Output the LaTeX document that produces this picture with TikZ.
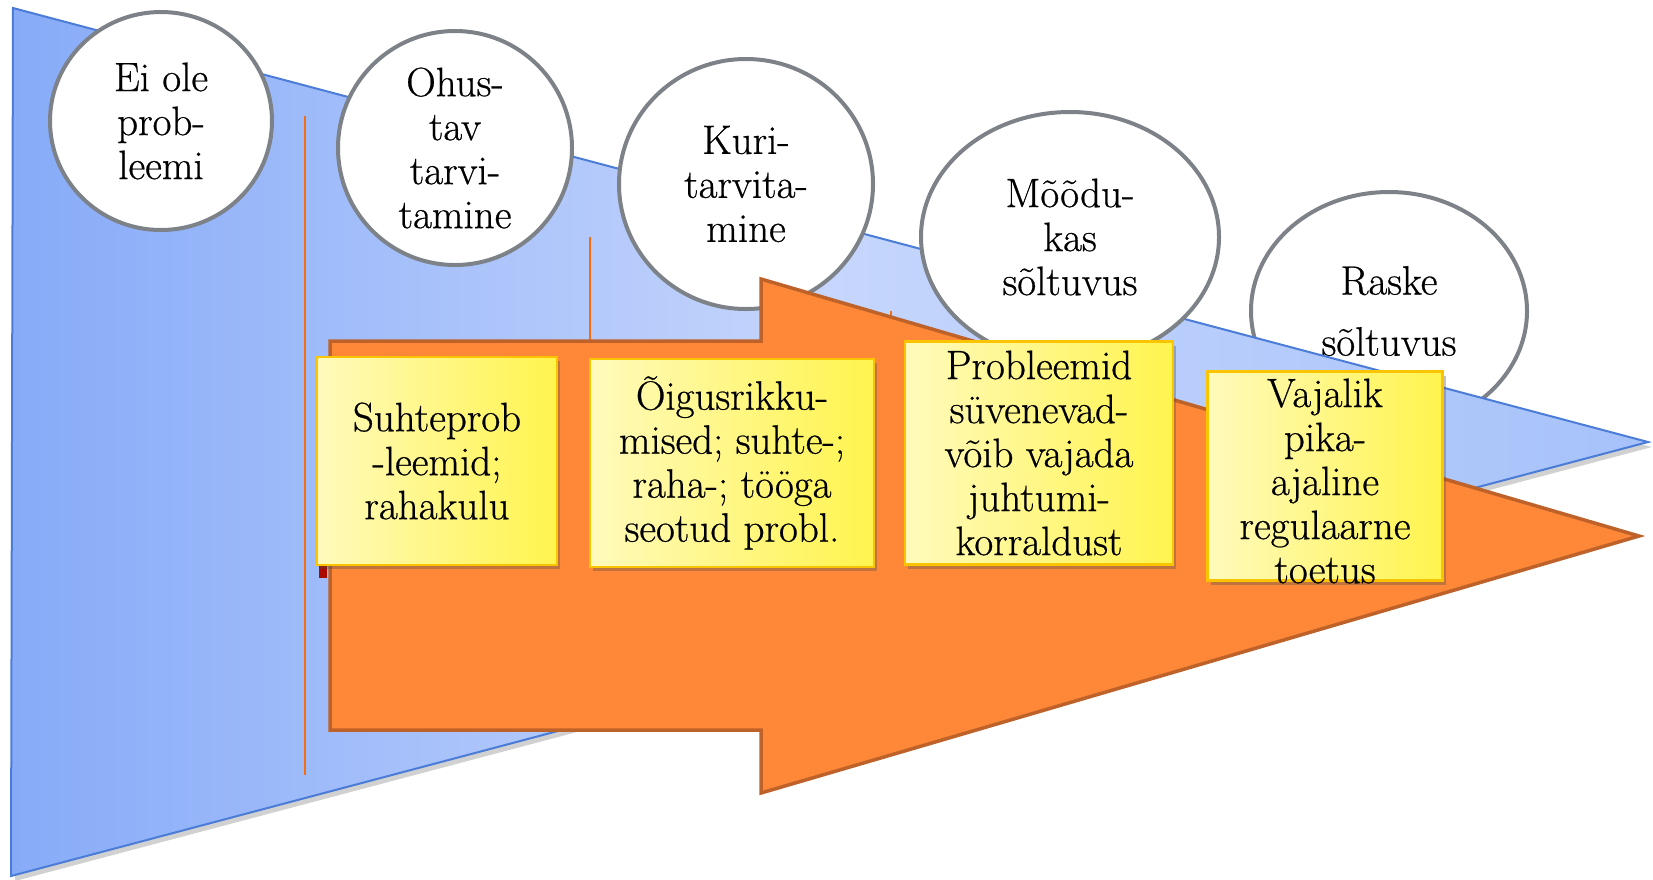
\documentclass[tikz,border=0pt]{standalone}
\usepackage{fontspec}
\newfontfamily\schfont{Latin Modern Roman}[FakeBold=0.6]
\usetikzlibrary{shapes.geometric,shadows}
\definecolor{blueedge}{RGB}{74,124,216}
\definecolor{blueL}{RGB}{135,171,248}
\definecolor{blueM}{RGB}{198,214,252}
\definecolor{blueR}{RGB}{166,194,250}
\definecolor{orfill}{RGB}{254,136,56}
\definecolor{ordraw}{RGB}{190,98,42}
\definecolor{orline}{RGB}{246,110,20}
\definecolor{ylight}{RGB}{255,250,188}
\definecolor{ydark}{RGB}{255,244,78}
\definecolor{yedge}{RGB}{250,196,0}
\definecolor{cgray}{RGB}{125,129,136}
\definecolor{darkredmark}{RGB}{170,10,0}
\tikzset{
  stage/.style={ellipse, draw=cgray, line width=4pt, fill=white, inner sep=0pt,
    align=center, font=\schfont\fontsize{41}{44}\selectfont},
  note/.style={rectangle, draw=yedge, line width=2.5pt, left color=ylight, right color=ydark,
    inner sep=0pt, align=center, font=\schfont\fontsize{41}{44}\selectfont,
    drop shadow={shadow xshift=3pt, shadow yshift=-4pt, opacity=0.35, fill=black!70}},
  tick/.style={draw=orline, line width=2pt},
}
\begin{document}
\begin{tikzpicture}[x=1pt,y=-1pt]
\useasboundingbox (0,0) rectangle (1653,879);
% circle partly behind the triangle
\node[stage, minimum width=276pt, minimum height=238pt] (c5) at (1389,311) {Raske\\[17pt]sõltuvus};
% blue triangle with soft shadow
\fill[black, opacity=0.18] (16,12) -- (1652,447) -- (15,881) -- cycle;
\path[draw=blueedge, line width=2pt, left color=blueL, right color=blueR, middle color=blueM]
  (13,8) -- (1648,442) -- (11,876) -- cycle;
% circles
\node[stage, minimum width=222pt, minimum height=218pt] (c1) at (161,121) {Ei ole\\prob-\\leemi};
\node[stage, minimum width=234pt, minimum height=234pt] (c2) at (455,148) {Ohus-\\tav\\tarvi-\\tamine};
\node[stage, minimum width=254pt, minimum height=250pt] (c3) at (746,184) {Kuri-\\tarvita-\\mine};
\node[stage, minimum width=298pt, minimum height=250pt] (c4) at (1070,237) {Mõõdu-\\kas\\sõltuvus};
% thin orange lines
\draw[tick] (305,116) -- (305,775);
\draw[tick] (590,237) -- (590,345);
\draw[tick] (891,311) -- (891,322);
% orange arrow
\draw[fill=orfill, draw=ordraw, line width=3.5pt, line join=miter]
  (330,341) -- (761,341) -- (761,279) -- (1639,536) -- (761,793) -- (761,730) -- (330,730) -- cycle;
\fill[darkredmark] (319,566) rectangle (327,578);
% yellow notes
\node[note, minimum width=240pt, minimum height=208pt] (n1) at (437,461) {Suhteprob\\-leemid;\\rahakulu};
\node[note, minimum width=284pt, minimum height=208pt] (n2) at (732,463) {Õigusrikku-\\mised; suhte-;\\raha-; tööga\\seotud probl.};
\node[note, minimum width=268pt, minimum height=223pt] (n3) at (1039,453) {Probleemid\\süvenevad-\\võib vajada\\juhtumi-\\korraldust};
\node[note, minimum width=235pt, minimum height=209pt] (n4) at (1325,476) {};
\node[align=center, font=\schfont\fontsize{41}{44}\selectfont] (t4) at (1325,481) {Vajalik\\pika-\\ajaline\\regulaarne\\toetus};
\end{tikzpicture}
\end{document}
